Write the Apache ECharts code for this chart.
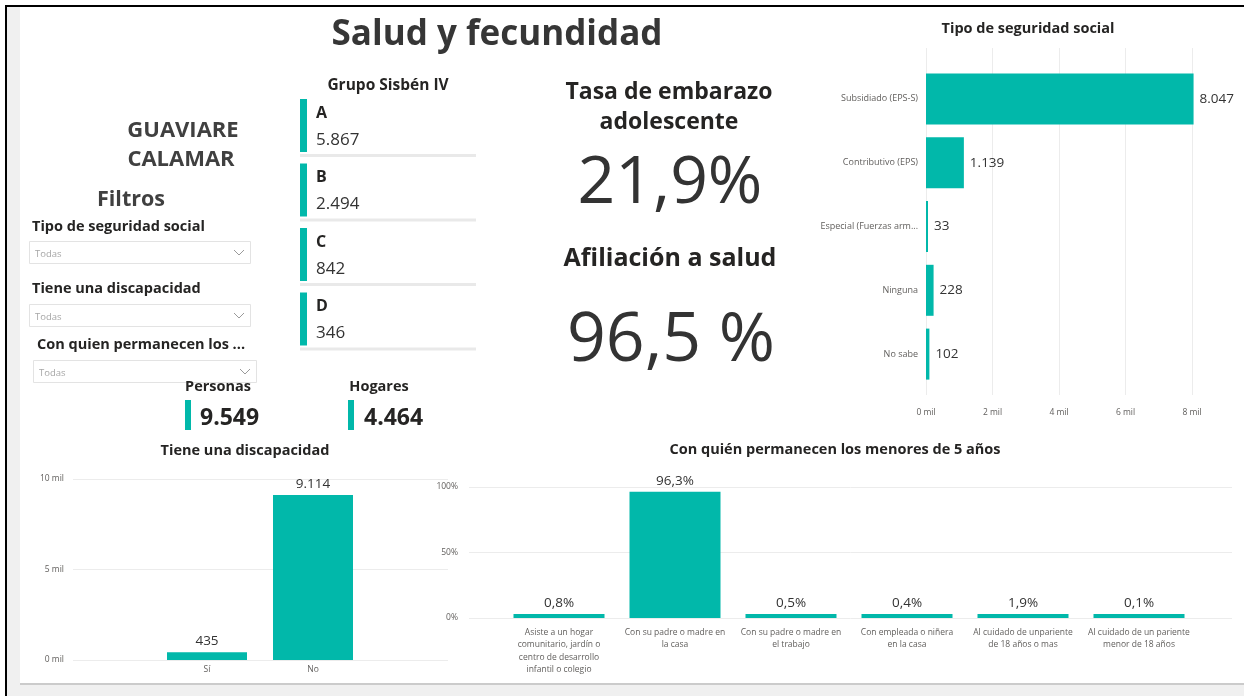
<!DOCTYPE html>
<html>
<head>
<meta charset="utf-8">
<title>Salud y fecundidad</title>
<script src="https://cdn.jsdelivr.net/npm/echarts@6/dist/echarts.min.js"></script>
<style>
  html, body { margin: 0; padding: 0; background: #fff; }
  #main { width: 1244px; height: 696px; }
</style>
</head>
<body>
<div id="main"></div>
<script>
// datos
const segCategories = ['Subsidiado (EPS-S)', 'Contributivo (EPS)', 'Especial (Fuerzas armadas)', 'Ninguna', 'No sabe']
const segValues = [8047, 1139, 33, 228, 102]

const discCategories = ['Sí', 'No']
const discValues = [435, 9114]

const careCategories = [
  'Asiste a un hogar\ncomunitario, jardín o\ncentro de desarrollo\ninfantil o colegio',
  'Con su padre o madre en\nla casa',
  'Con su padre o madre en\nel trabajo',
  'Con empleada o niñera\nen la casa',
  'Al cuidado de unpariente\nde 18 años o mas',
  'Al cuidado de un pariente\nmenor de 18 años'
]
const careValues = [0.8, 96.3, 0.5, 0.4, 1.9, 0.1]

const sisbenGroups = ['A', 'B', 'C', 'D']
const sisbenValues = [5867, 2494, 842, 346]

const filterNames = ['Tipo de seguridad social', 'Tiene una discapacidad', 'Con quien permanecen los ...']

const personas = 9549
const hogares = 4464
const tasaEmbarazo = 21.9
const afiliacionSalud = 96.5

const TEAL = '#01B8AA'
const FONT = '"Open Sans", "Noto Sans", sans-serif'
const DARK = '#252423'
const GRID_LINE = '#ececec'
const AXIS_TXT = '#605E5C'

const fmtInt = v => String(v).replace(/\B(?=(\d{3})+(?!\d))/g, '.')
const fmtDec = v => v.toFixed(1).replace('.', ',')
const fmtMil = v => (v / 1000) + ' mil'

function txt(text, x, y, size, opts = {}) {
  return {
    type: 'text',
    z: 5,
    style: {
      text: text,
      x: x,
      y: y,
      font: (opts.bold ? 'bold ' : '') + size + 'px ' + FONT,
      fill: opts.color || DARK,
      textAlign: opts.align || 'left',
      textVerticalAlign: 'middle',
      align: opts.align || 'left',
      verticalAlign: 'middle'
    }
  }
}

function rect(x, y, w, h, fill, z, stroke) {
  return {
    type: 'rect',
    z: z === undefined ? -10 : z,
    shape: { x: x, y: y, width: w, height: h },
    style: { fill: fill, stroke: stroke || null, lineWidth: stroke ? 1 : 0 }
  }
}

const graphics = [
  // marco de la pagina
  rect(5, 5, 1239, 691, '#000', -20),
  rect(7, 7, 1237, 689, '#f0f0f0', -19),
  rect(20, 7, 1224, 678, '#cbcbcb', -18),
  rect(20, 7, 1224, 676, '#ffffff', -17),

  txt('Salud y fecundidad', 497, 35, 35, { bold: true, align: 'center', color: '#363636' }),
  txt('GUAVIARE', 183, 131, 22, { bold: true, align: 'center', color: '#404040' }),
  txt('CALAMAR', 181, 160, 22, { bold: true, align: 'center', color: '#404040' }),
  txt('Filtros', 131, 200, 21.5, { bold: true, align: 'center', color: '#404040' }),

  txt('Grupo Sisbén IV', 388, 86, 15.5, { bold: true, align: 'center' }),

  txt('Tasa de embarazo', 669, 92, 23, { bold: true, align: 'center' }),
  txt('adolescente', 669, 122, 23, { bold: true, align: 'center' }),
  txt(fmtDec(tasaEmbarazo) + '%', 670, 184, 66, { align: 'center', color: '#333' }),
  txt('Afiliación a salud', 670, 259, 25, { bold: true, align: 'center' }),
  txt(fmtDec(afiliacionSalud) + ' %', 671, 342, 68, { align: 'center', color: '#333' }),

  txt('Tipo de seguridad social', 1028, 29, 14.5, { bold: true, align: 'center' }),
  txt('Tiene una discapacidad', 245, 451, 14.5, { bold: true, align: 'center' }),
  txt('Con quién permanecen los menores de 5 años', 835, 450, 14.5, { bold: true, align: 'center' }),

  txt('Personas', 218, 387, 14.5, { bold: true, align: 'center' }),
  rect(185, 400, 6, 30, TEAL, 5),
  txt(fmtInt(personas), 200, 418, 23, { bold: true }),
  txt('Hogares', 379, 387, 14.5, { bold: true, align: 'center' }),
  rect(348, 400, 6, 30, TEAL, 5),
  txt(fmtInt(hogares), 364, 418, 23, { bold: true })
]

// filtros (slicers)
const filterBoxes = [
  { lx: 32, ly: 227, bx: 29, by: 241, bw: 221 },
  { lx: 32, ly: 289, bx: 29, by: 304, bw: 221 },
  { lx: 37, ly: 345, bx: 33, by: 360, bw: 223 }
]
filterNames.forEach((name, i) => {
  const f = filterBoxes[i]
  graphics.push(txt(name, f.lx, f.ly, 14.5, { bold: true }))
  graphics.push(rect(f.bx + 0.5, f.by + 0.5, f.bw, 22, '#fff', 4, '#e3e3e3'))
  graphics.push(txt('Todas', f.bx + 6, f.by + 13, 9.5, { color: '#a6a6a6' }))
  graphics.push({
    type: 'polyline',
    z: 5,
    shape: { points: [[f.bx + f.bw - 16, f.by + 9], [f.bx + f.bw - 11, f.by + 14], [f.bx + f.bw - 6, f.by + 9]] },
    style: { stroke: '#9a9a9a', lineWidth: 1, fill: null }
  })
})

// tarjetas del grupo Sisbén
sisbenGroups.forEach((g, i) => {
  const top = 99 + i * 64.5
  graphics.push(rect(300, top, 7, 53, TEAL, 5))
  graphics.push(txt(g, 316, top + 14, 16, { bold: true }))
  graphics.push(txt(fmtInt(sisbenValues[i]), 316, top + 41, 17, { color: '#333' }))
  graphics.push(rect(300, top + 55, 176, 3, '#e9e9e9', 5))
})

const smallLabel = { fontFamily: FONT, fontSize: 8.5, color: AXIS_TXT }
const valueLabel = { fontFamily: FONT, fontSize: 13.5, color: '#333' }
const hidden = { show: false }

const chart = echarts.init(document.getElementById('main'))
chart.setOption({
  animation: false,
  textStyle: { fontFamily: FONT },
  graphic: graphics,
  grid: [
    { left: 926, right: 52, top: 48, bottom: 301 },
    { left: 926, right: 52, top: 67, bottom: 310 },
    { left: 73, right: 796, top: 479, bottom: 36 },
    { left: 154, width: 212, top: 479, bottom: 36 },
    { left: 469, right: 12, top: 487, bottom: 78 },
    { left: 501, width: 696, top: 487, bottom: 78 }
  ],
  xAxis: [
    {
      gridIndex: 0, type: 'value', min: 0, max: 8000, interval: 2000,
      axisLine: hidden, axisTick: hidden,
      axisLabel: Object.assign({ formatter: fmtMil, margin: 13 }, smallLabel),
      splitLine: { lineStyle: { color: GRID_LINE } }
    },
    { gridIndex: 1, type: 'value', min: 0, max: 8000, show: false },
    { gridIndex: 2, type: 'value', min: 0, max: 1, show: false },
    {
      gridIndex: 3, type: 'category', data: discCategories,
      axisLine: hidden, axisTick: hidden,
      axisLabel: Object.assign({ margin: 5 }, smallLabel)
    },
    { gridIndex: 4, type: 'value', min: 0, max: 1, show: false },
    {
      gridIndex: 5, type: 'category', data: careCategories,
      axisLine: hidden, axisTick: hidden,
      axisLabel: Object.assign({ margin: 8, lineHeight: 12.5, interval: 0 }, smallLabel)
    }
  ],
  yAxis: [
    { gridIndex: 0, type: 'value', min: 0, max: 1, show: false },
    {
      gridIndex: 1, type: 'category', data: segCategories, inverse: true,
      axisLine: hidden, axisTick: hidden,
      axisLabel: Object.assign({}, smallLabel, { fontSize: 9, margin: 8, width: 104, overflow: 'truncate', ellipsis: '...' })
    },
    {
      gridIndex: 2, type: 'value', min: 0, max: 10000, interval: 5000,
      axisLine: hidden, axisTick: hidden,
      axisLabel: Object.assign({ formatter: fmtMil, margin: 9 }, smallLabel),
      splitLine: { lineStyle: { color: GRID_LINE } }
    },
    { gridIndex: 3, type: 'value', min: 0, max: 10000, show: false },
    {
      gridIndex: 4, type: 'value', min: 0, max: 100, interval: 50,
      axisLine: hidden, axisTick: hidden,
      axisLabel: Object.assign({ formatter: '{value}%', margin: 11 }, smallLabel),
      splitLine: { lineStyle: { color: GRID_LINE } }
    },
    { gridIndex: 5, type: 'value', min: 0, max: 100, show: false }
  ],
  series: [
    {
      name: 'Tipo de seguridad social',
      type: 'bar',
      xAxisIndex: 1,
      yAxisIndex: 1,
      data: segValues,
      barWidth: 51,
      barMinHeight: 2,
      clip: false,
      itemStyle: { color: TEAL },
      label: Object.assign({ show: true, position: 'right', distance: 6, formatter: p => fmtInt(p.value) }, valueLabel)
    },
    {
      name: 'Tiene una discapacidad',
      type: 'bar',
      xAxisIndex: 3,
      yAxisIndex: 3,
      data: discValues,
      barWidth: 80,
      itemStyle: { color: TEAL },
      label: Object.assign({ show: true, position: 'top', distance: 4, formatter: p => fmtInt(p.value) }, valueLabel)
    },
    {
      name: 'Con quién permanecen los menores de 5 años',
      type: 'bar',
      xAxisIndex: 5,
      yAxisIndex: 5,
      data: careValues,
      barWidth: 91,
      barMinHeight: 4,
      itemStyle: { color: TEAL },
      label: Object.assign({ show: true, position: 'top', distance: 4, formatter: p => fmtDec(p.value) + '%' }, valueLabel)
    }
  ]
})
</script>
</body>
</html>
